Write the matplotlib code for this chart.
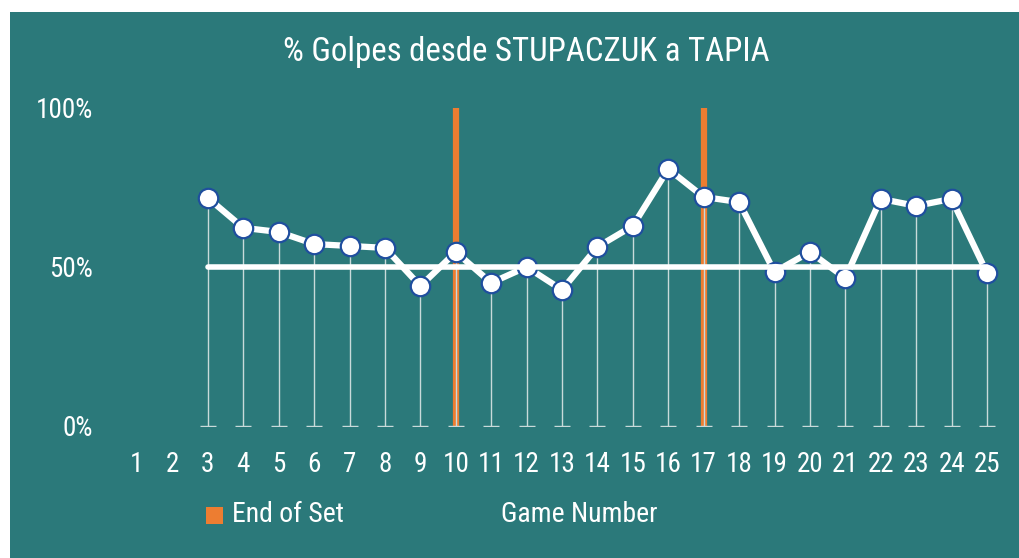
import matplotlib.pyplot as plt
from matplotlib import font_manager
from matplotlib.patches import Rectangle
import numpy as np

# pick a narrow face if one is installed
names = {f.name for f in font_manager.fontManager.ttflist}
for cand in ['Liberation Sans Narrow', 'Roboto Condensed', 'Open Sans Condensed',
             'DejaVu Sans Condensed', 'Roboto', 'Liberation Sans']:
    if cand in names:
        family = cand
        break
else:
    family = 'DejaVu Sans'
plt.rcParams['font.family'] = [family, 'DejaVu Sans']
plt.rcParams['font.stretch'] = 'condensed'

# game number and share of shots (%) from Stupaczuk to Tapia
games = np.arange(3, 26)
pct = [71.7, 62.3, 61.0, 57.2, 56.6, 56.0, 44.0, 54.7, 45.0, 50.0, 42.8,
       56.3, 62.9, 80.8, 72.0, 70.4, 48.4, 54.7, 46.5, 71.4, 69.2, 71.4, 48.1]
set_ends = [10, 17]
ref_level = 50
x_ticks = np.arange(1, 26)
y_ticks = [0, 50, 100]

teal = '#2B797A'
orange = '#ED7D31'
marker_edge = '#1F4E9E'

fig = plt.figure(figsize=(10.2, 5.58), dpi=100)
fig.patch.set_facecolor('white')
fig.patches.append(Rectangle((10 / 1020, 0), 1 - 10 / 1020, 1 - 12 / 558,
                             transform=fig.transFigure, facecolor=teal,
                             edgecolor='none', zorder=-5))

ax = fig.add_axes([0.117, 0.2366, 0.868, 0.570], zorder=2)
ax.set_facecolor('none')

# end of set bars
ax.vlines(set_ends, 0, 100, color=orange, linewidth=4.5, zorder=1)

# drop lines with small caps
ax.vlines(games, 0, pct, color='#C9DADA', linewidth=1, zorder=2)
ax.scatter(games, np.zeros(len(games)), marker='_', s=120,
           color='#C9DADA', linewidths=1, zorder=2)

ax.plot(games, pct, color='white', linewidth=4.5, marker='o', markersize=14,
        markerfacecolor='white', markeredgecolor=marker_edge,
        markeredgewidth=1.6, zorder=4)

# 50% reference, drawn over the markers
ax.plot([games[0], games[-1]], [ref_level, ref_level], color='white',
        linewidth=4, solid_capstyle='round', zorder=5)

ax.set_xlim(0.5, 25.5)
ax.set_ylim(0, 100)
ax.set_xticks(x_ticks)
ax.set_yticks(y_ticks, labels=[f'{v}%' for v in y_ticks])
ax.tick_params(length=0, colors='white', labelsize=19.5)
ax.tick_params(axis='x', pad=18)
ax.tick_params(axis='y', pad=19)
for s in ax.spines.values():
    s.set_visible(False)

fig.text(526 / 1020, 1 - 52 / 558, '% Golpes desde STUPACZUK a TAPIA',
         ha='center', va='center', color='white', fontsize=23.7)

fig.patches.append(Rectangle((206 / 1020, 1 - 524 / 558), 17 / 1020, 17 / 558,
                             transform=fig.transFigure, facecolor=orange,
                             edgecolor='none', zorder=1))
fig.text(232 / 1020, 1 - 515 / 558, 'End of Set', ha='left', va='center',
         color='white', fontsize=20)
fig.text(579 / 1020, 1 - 515 / 558, 'Game Number', ha='center', va='center',
         color='white', fontsize=20)

fig.savefig('out.png', dpi=100, facecolor=fig.get_facecolor())
